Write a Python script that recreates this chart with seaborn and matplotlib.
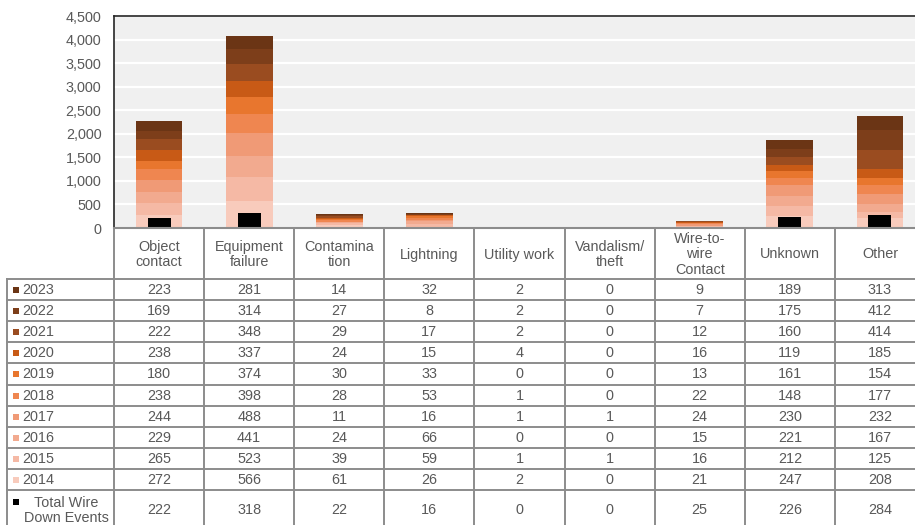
import numpy as np
import pandas as pd
import matplotlib
matplotlib.use("Agg")
import matplotlib.pyplot as plt
from matplotlib.lines import Line2D
from matplotlib.patches import Rectangle
from matplotlib.ticker import FuncFormatter
import seaborn as sns

# ---------------- data ----------------
categories = ["Object contact", "Equipment failure", "Contamination", "Lightning",
              "Utility work", "Vandalism/theft", "Wire-to-wire Contact", "Unknown", "Other"]
header_labels = ["Object\ncontact", "Equipment\nfailure", "Contamina\ntion", "Lightning",
                 "Utility work", "Vandalism/\ntheft", "Wire-to-\nwire\nContact", "Unknown", "Other"]
years = ["2023", "2022", "2021", "2020", "2019", "2018", "2017", "2016", "2015", "2014"]
v2023 = [223, 281, 14, 32, 2, 0, 9, 189, 313]
v2022 = [169, 314, 27, 8, 2, 0, 7, 175, 412]
v2021 = [222, 348, 29, 17, 2, 0, 12, 160, 414]
v2020 = [238, 337, 24, 15, 4, 0, 16, 119, 185]
v2019 = [180, 374, 30, 33, 0, 0, 13, 161, 154]
v2018 = [238, 398, 28, 53, 1, 0, 22, 148, 177]
v2017 = [244, 488, 11, 16, 1, 1, 24, 230, 232]
v2016 = [229, 441, 24, 66, 0, 0, 15, 221, 167]
v2015 = [265, 523, 39, 59, 1, 1, 16, 212, 125]
v2014 = [272, 566, 61, 26, 2, 0, 21, 247, 208]
total_wire_down = [222, 318, 22, 16, 0, 0, 25, 226, 284]
total_label = "Total Wire\nDown Events"
yticks = [0, 500, 1000, 1500, 2000, 2500, 3000, 3500, 4000, 4500]

series = [v2023, v2022, v2021, v2020, v2019, v2018, v2017, v2016, v2015, v2014]
colors = ["#6b3515", "#7d3e1a", "#9a4c20", "#c85a16", "#e8762e",
          "#ef8650", "#f09a76", "#f2aa8f", "#f5b9a5", "#f8cbbc"]

# ---------------- figure ----------------
plt.rcParams["font.family"] = ["Liberation Sans", "DejaVu Sans"]
W, H = 915, 525
fig = plt.figure(figsize=(W / 100, H / 100), dpi=100)

L, R, T, B = 114, 925, 16, 228
ax = fig.add_axes([L / W, 1 - B / H, (R - L) / W, (B - T) / H])
ax.set_facecolor("#f0f0f0")

# stacked bars: draw cumulative totals, tallest first (2023 on top)
arr = np.array(series)  # rows: 2023..2014
for k in range(len(years)):
    cum = arr[k:].sum(axis=0)
    df = pd.DataFrame({"cat": categories, "val": cum})
    sns.barplot(data=df, x="cat", y="val", order=categories, color=colors[k],
                saturation=1, width=0.52, linewidth=0, ax=ax, zorder=2)

df_t = pd.DataFrame({"cat": categories, "val": total_wire_down})
sns.barplot(data=df_t, x="cat", y="val", order=categories, color="black",
            saturation=1, width=0.255, linewidth=0, ax=ax, zorder=2.2)

ax.set_xlim(-0.5, len(categories) - 0.5)
ax.set_ylim(0, 4500)
ax.set_yticks(yticks)
ax.yaxis.set_major_formatter(FuncFormatter(lambda v, p: f"{int(v):,}"))
ax.tick_params(axis="y", length=0, pad=9, labelsize=10.4, labelcolor="#595959")
ax.tick_params(axis="x", length=0, labelbottom=False)
ax.set_xlabel("")
ax.set_ylabel("")
ax.grid(axis="y", color="white", linewidth=1.6, zorder=1)
ax.grid(axis="x", visible=False)
ax.set_axisbelow(True)
for s in ["top", "left"]:
    ax.spines[s].set_color("#262626")
    ax.spines[s].set_linewidth(1.2)
ax.spines["right"].set_visible(False)
ax.spines["bottom"].set_color("#8c8c8c")
ax.spines["bottom"].set_linewidth(1.5)
ax.spines["bottom"].set_zorder(2.5)

# ---------------- data table ----------------
def fx(x):
    return x / W

def fy(y):
    return 1 - y / H

line_kw = dict(color="#8c8c8c", linewidth=1.4, transform=fig.transFigure)
txt_kw = dict(color="#595959", fontsize=10.4, ha="center", va="center")

colw = (R - L) / len(categories)
col_edges = [L + i * colw for i in range(len(categories) + 1)]
row_top = 279
rowh = 21.1
row_edges = [row_top + i * rowh for i in range(len(years) + 1)]
table_bottom = 532

# horizontal lines
for y in row_edges:
    fig.add_artist(Line2D([fx(7), fx(R)], [fy(y), fy(y)], **line_kw))
# vertical lines
fig.add_artist(Line2D([fx(7), fx(7)], [fy(row_top), fy(table_bottom)], **line_kw))
for x in col_edges[:-1]:
    fig.add_artist(Line2D([fx(x), fx(x)], [fy(B), fy(table_bottom)], **line_kw))

# header labels
for i, lab in enumerate(header_labels):
    cx = (col_edges[i] + col_edges[i + 1]) / 2
    fig.text(fx(cx), fy((B + row_top) / 2 + 1), lab, linespacing=1.1, **txt_kw)

# year rows
for r, (yr, vals) in enumerate(zip(years, series)):
    cy = (row_edges[r] + row_edges[r + 1]) / 2 + 0.5
    fig.add_artist(Rectangle((fx(12.5), fy(cy + 3)), 6 / W, 6 / H,
                             facecolor=colors[r], edgecolor="none",
                             transform=fig.transFigure))
    fig.text(fx(22), fy(cy), yr, color="#595959", fontsize=10.4,
             ha="left", va="center")
    for i, v in enumerate(vals):
        cx = (col_edges[i] + col_edges[i + 1]) / 2
        fig.text(fx(cx), fy(cy), str(v), **txt_kw)

# total wire down row
cy = (row_edges[-1] + table_bottom) / 2 - 0.5
fig.add_artist(Rectangle((fx(12.5), fy(505)), 6 / W, 6 / H,
                         facecolor="black", edgecolor="none",
                         transform=fig.transFigure))
fig.text(fx(66), fy(cy), total_label, linespacing=1.1, **txt_kw)
for i, v in enumerate(total_wire_down):
    cx = (col_edges[i] + col_edges[i + 1]) / 2
    fig.text(fx(cx), fy(cy), str(v), **txt_kw)

fig.savefig("out.png", dpi=100, facecolor="white")
